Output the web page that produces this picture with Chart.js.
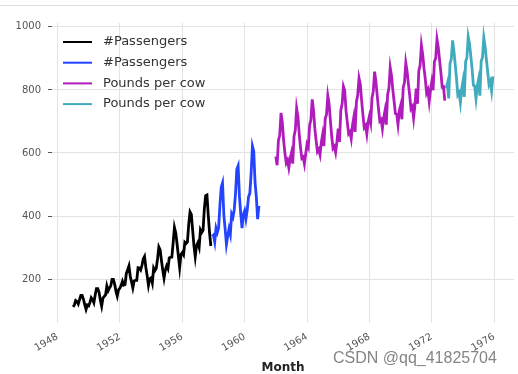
<!DOCTYPE html>
<html>
<head>
<meta charset="utf-8">
<script src="https://cdn.jsdelivr.net/npm/chart.js@4/dist/chart.umd.min.js"></script>
<style>
  html, body { margin: 0; padding: 0; background: #fff; }
  #wrap { width: 518px; height: 374px; }
</style>
</head>
<body>
<div id="wrap"><canvas id="chart" width="518" height="374"></canvas></div>
<script>
// monthly air passengers, Jan 1949 .. Dec 1960
const passengers = [
  112, 118, 132, 129, 121, 135, 148, 148, 136, 119, 104, 118,
  115, 126, 141, 135, 125, 149, 170, 170, 158, 133, 114, 140,
  145, 150, 178, 163, 172, 178, 199, 199, 184, 162, 146, 166,
  171, 180, 193, 181, 183, 218, 230, 242, 209, 191, 172, 194,
  196, 196, 236, 235, 229, 243, 264, 272, 237, 211, 180, 201,
  204, 188, 235, 227, 234, 264, 302, 293, 259, 229, 203, 229,
  242, 233, 267, 269, 270, 315, 364, 347, 312, 274, 237, 278,
  284, 277, 317, 313, 318, 374, 413, 405, 355, 306, 271, 306,
  315, 301, 356, 348, 355, 422, 465, 467, 404, 347, 305, 336,
  340, 318, 362, 348, 363, 435, 491, 505, 404, 359, 310, 337,
  360, 342, 406, 396, 420, 472, 548, 559, 463, 407, 362, 405,
  417, 391, 419, 461, 472, 535, 622, 606, 508, 461, 390, 432
];
const passengersStart = 1949;
const passengersSplit = 107; // black part ends Nov 1957

// monthly milk production (pounds per cow), Jan 1962 .. Dec 1975
const milk = [
  589, 561, 640, 656, 727, 697, 640, 599, 568, 577, 553, 582,
  600, 566, 653, 673, 742, 716, 660, 617, 583, 587, 565, 598,
  628, 618, 688, 705, 770, 736, 678, 639, 604, 611, 594, 634,
  658, 622, 709, 722, 782, 756, 702, 653, 615, 621, 602, 635,
  677, 635, 736, 755, 811, 798, 735, 697, 661, 667, 645, 688,
  713, 667, 762, 784, 837, 817, 767, 722, 681, 687, 660, 698,
  717, 696, 775, 796, 858, 826, 783, 740, 701, 706, 677, 711,
  734, 690, 785, 805, 871, 845, 801, 764, 725, 723, 690, 734,
  750, 707, 807, 824, 886, 859, 819, 783, 740, 747, 711, 751,
  804, 756, 860, 878, 942, 913, 869, 834, 790, 800, 763, 800,
  826, 799, 890, 900, 961, 935, 894, 855, 809, 810, 766, 805,
  821, 773, 883, 898, 957, 924, 881, 837, 784, 791, 760, 802,
  828, 778, 889, 902, 969, 947, 908, 867, 815, 812, 773, 813,
  834, 782, 892, 903, 966, 937, 896, 858, 817, 827, 797, 843
];
const milkStart = 1962;
const milkSplit = 131; // purple part ends Nov 1972

const seriesLabels = ['#Passengers', '#Passengers', 'Pounds per cow', 'Pounds per cow'];
const seriesColors = ['#000000', '#2343ff', '#b01cbb', '#3fabbd'];
const xTicks = [1948, 1952, 1956, 1960, 1964, 1968, 1972, 1976];
const yTicks = [200, 400, 600, 800, 1000];

function toPoints(values, startYear, from, to) {
  const pts = [];
  for (let i = from; i < to; i++) {
    pts.push({ x: startYear + i / 12, y: values[i] });
  }
  return pts;
}

const parts = [
  toPoints(passengers, passengersStart, 0, passengersSplit),
  toPoints(passengers, passengersStart, passengersSplit, passengers.length),
  toPoints(milk, milkStart, 0, milkSplit),
  toPoints(milk, milkStart, milkSplit, milk.length)
];

const font = 'DejaVu Sans';

// legend inside the plot, top-left, plus page frame and watermark
const extras = {
  id: 'extras',
  afterDraw(chart) {
    const ctx = chart.ctx;
    ctx.save();
    ctx.strokeStyle = '#dddddd';
    ctx.lineWidth = 1;
    ctx.beginPath();
    ctx.moveTo(0, 5.5);
    ctx.lineTo(518, 5.5);
    ctx.stroke();

    ctx.font = '13px ' + font;
    ctx.textBaseline = 'middle';
    ctx.textAlign = 'left';
    chart.data.datasets.forEach((ds, i) => {
      const y = 42 + i * 20.7;
      ctx.strokeStyle = ds.borderColor;
      ctx.lineWidth = 2;
      ctx.beginPath();
      ctx.moveTo(63, y);
      ctx.lineTo(92, y);
      ctx.stroke();
      ctx.fillStyle = '#333';
      ctx.fillText(ds.label, 103, y);
    });

    ctx.font = '16px "Liberation Sans"';
    ctx.fillStyle = 'rgba(110,110,110,0.85)';
    ctx.textBaseline = 'alphabetic';
    ctx.fillText('CSDN @qq_41825704', 333, 363);
    ctx.restore();
  }
};

new Chart(document.getElementById('chart').getContext('2d'), {
  type: 'line',
  data: {
    datasets: parts.map((pts, i) => ({
      label: seriesLabels[i],
      data: pts,
      borderColor: seriesColors[i],
      backgroundColor: seriesColors[i],
      borderWidth: 2.8,
      pointRadius: 0,
      tension: 0
    }))
  },
  options: {
    responsive: false,
    animation: false,
    layout: { padding: { top: 23, right: 4, left: 0, bottom: 0 } },
    plugins: {
      legend: { display: false },
      tooltip: { enabled: false }
    },
    scales: {
      x: {
        type: 'linear',
        min: 1947.65,
        max: 1977.27,
        afterBuildTicks: axis => { axis.ticks = xTicks.map(v => ({ value: v })); },
        afterFit: axis => { axis.height = 51; },
        border: { display: false },
        grid: { color: '#e3e3e3', drawTicks: false },
        ticks: {
          color: '#555',
          font: { family: font, size: 10 },
          minRotation: 30,
          maxRotation: 30,
          padding: 8,
          callback: v => String(v)
        },
        title: {
          display: true,
          text: 'Month',
          color: '#222',
          font: { family: font, size: 12, weight: 'bold' },
          padding: { top: 0, bottom: -1 }
        }
      },
      y: {
        min: 60.75,
        max: 1012.25,
        afterBuildTicks: axis => { axis.ticks = yTicks.map(v => ({ value: v })); },
        afterFit: axis => { axis.width = 52; },
        border: { display: false },
        grid: { color: '#e3e3e3', tickLength: 4, tickColor: '#555' },
        ticks: {
          color: '#555',
          font: { family: font, size: 10 },
          padding: 7,
          callback: v => String(v)
        }
      }
    }
  },
  plugins: [extras]
});
</script>
</body>
</html>
